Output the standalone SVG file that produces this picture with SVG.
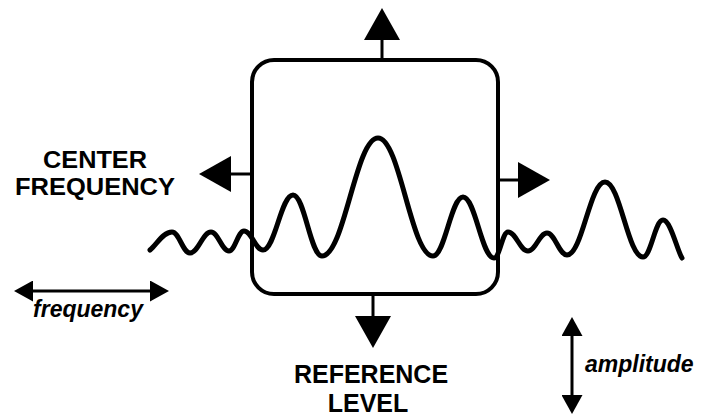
<svg xmlns="http://www.w3.org/2000/svg" width="702" height="416" viewBox="0 0 702 416">
  <style>
    .cap { font-family: "Liberation Sans", Arial, Helvetica, sans-serif; font-weight: bold; font-size: 25px; fill: #000; text-anchor: middle; }
    .cap-sm { font-size: 23px; }
    .ital { font-family: "Liberation Sans", Arial, Helvetica, sans-serif; font-weight: bold; font-style: italic; font-size: 23px; fill: #000; }
    .stem { stroke: #000; stroke-width: 3; fill: none; }
    .box { stroke: #000; stroke-width: 4; fill: none; }
    .wave { stroke: #000; stroke-width: 5; fill: none; stroke-linecap: round; stroke-linejoin: round; }
  </style>
  <defs>
    <marker id="big" markerUnits="userSpaceOnUse" viewBox="0 0 32 36" markerWidth="32" markerHeight="36" refX="1" refY="18" orient="auto">
      <path d="M0,0 L32,18 L0,36 z" fill="#000"/>
    </marker>
    <marker id="small" markerUnits="userSpaceOnUse" viewBox="0 0 19 21" markerWidth="19" markerHeight="21" refX="1" refY="10.5" orient="auto-start-reverse">
      <path d="M0,0 L19,10.5 L0,21 z" fill="#000"/>
    </marker>
  </defs>
  <rect width="702" height="416" fill="#fff"/>

  <g id="filter-box">
    <rect class="box" x="252" y="60" width="246" height="234" rx="22" ry="22"/>
  </g>

  <g id="signal">
    <path class="wave" d="M150,250 C157,244 163.2,232 172,232 C179.2,232 182.8,253 190,253 C198.4,253 202.6,232 211,232 C218.2,232 221.8,251 229,251 C235,251 238,231 244,231 C251.6,231 255.4,250 263,250 C275,250 281,195 293,195 C304.6,195 310.4,256 322,256 C344.4,256 355.6,138 378,138 C400,138 411,256 433,256 C445,256 451,197 463,197 C475.4,197 481.6,258 494,258 C499.6,258 502.4,232 508,232 C516,232 520,251 528,251 C535.6,251 539.4,233 547,233 C555,233 559,255 567,255 C582.2,255 589.8,182 605,182 C620.2,182 627.8,257 643,257 C651,257 655,220 663,220 C670.6,220 677,250 682,258"/>
  </g>

  <g id="connectors">
    <line class="stem" x1="382" y1="60" x2="382" y2="39" marker-end="url(#big)"/>
    <line class="stem" x1="252" y1="174" x2="230" y2="174" marker-end="url(#big)"/>
    <line class="stem" x1="498" y1="180" x2="519" y2="180" marker-end="url(#big)"/>
    <line class="stem" x1="373" y1="294" x2="373" y2="317" marker-end="url(#big)"/>
    <line class="stem" x1="32" y1="291" x2="151" y2="291" marker-start="url(#small)" marker-end="url(#small)"/>
    <line class="stem" x1="572" y1="335" x2="572" y2="396" marker-start="url(#small)" marker-end="url(#small)"/>
  </g>

  <g id="label-center-frequency">
    <text class="cap cap-sm" x="95" y="168" textLength="104" lengthAdjust="spacingAndGlyphs">CENTER</text>
    <text class="cap cap-sm" x="95" y="195" textLength="160" lengthAdjust="spacingAndGlyphs">FREQUENCY</text>
  </g>
  <g id="label-reference-level">
    <text class="cap" x="371" y="383">REFERENCE</text>
    <text class="cap" x="368" y="412">LEVEL</text>
  </g>
  <g id="label-frequency">
    <text class="ital" x="88" y="317" text-anchor="middle">frequency</text>
  </g>
  <g id="label-amplitude">
    <text class="ital" x="585" y="372">amplitude</text>
  </g>
</svg>
